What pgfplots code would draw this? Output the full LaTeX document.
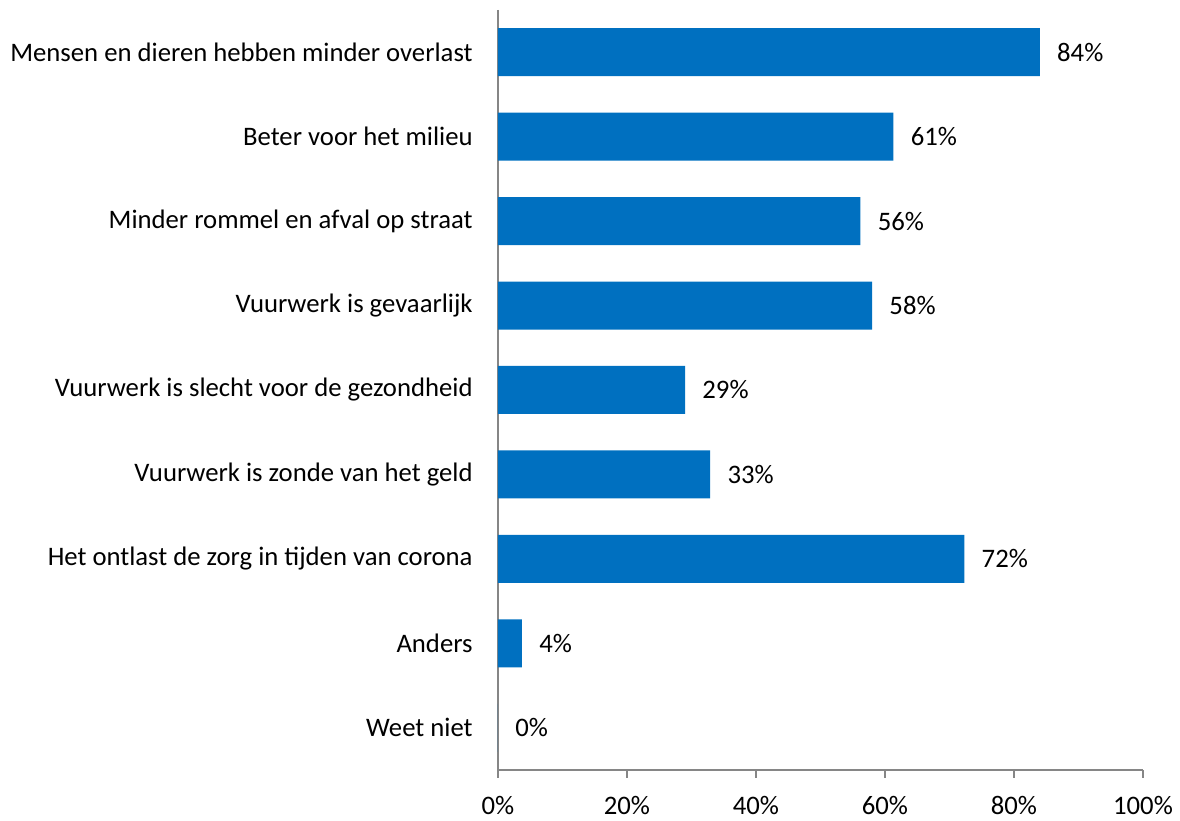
\documentclass[border=0pt]{standalone}
\usepackage{fontspec}
\setmainfont{Carlito}
\usepackage{pgfplots}
\pgfplotsset{compat=1.18}
\definecolor{barblue}{HTML}{0070C0}
\definecolor{axgray}{HTML}{868686}

\begin{document}
\fontsize{13.4}{16}\selectfont
\begin{tikzpicture}
\begin{axis}[
  name=ax,
  scale only axis,
  width=322.5bp, height=380bp,
  xbar, bar width=24bp,
  xmin=0, xmax=100,
  ymin=-0.5, ymax=8.5,
  y dir=reverse,
  axis x line=bottom, axis y line=left,
  axis line style={-, axgray, line width=1bp},
  xtick={0,20,...,100},
  xticklabel={\pgfmathprintnumber{\tick}\%},
  ytick={0,...,8},
  yticklabels={Mensen en dieren hebben minder overlast,
    Beter voor het milieu,
    Minder rommel en afval op straat,
    Vuurwerk is gevaarlijk,
    Vuurwerk is slecht voor de gezondheid,
    Vuurwerk is zonde van het geld,
    Het ontlast de zorg in tijden van corona,
    Anders,
    Weet niet},
  tick align=outside,
  major tick length=4bp,
  xtick style={axgray, line width=1bp},
  ytick style={draw=none},
  yticklabel style={inner sep=0pt, xshift=-8.5bp},
  xticklabel style={inner sep=0pt, yshift=-9bp},
  nodes near coords={\pgfmathprintnumber[fixed,precision=0]{\pgfplotspointmeta}\%},
  nodes near coords style={anchor=west, inner sep=0pt, xshift=8.5bp, black},
  /pgf/number format/assume math mode=true,
]
\addplot[fill=barblue, draw=none] coordinates {
  (84,0) (61.3,1) (56.2,2) (58,3) (29,4) (32.9,5) (72.3,6) (3.7,7) (0,8)};
\end{axis}
\pgfresetboundingbox
\path[use as bounding box] ([shift={(-249bp,-25.5bp)}]ax.south west)
  rectangle ([shift={(18.5bp,5bp)}]ax.north east);
\end{tikzpicture}
\end{document}
